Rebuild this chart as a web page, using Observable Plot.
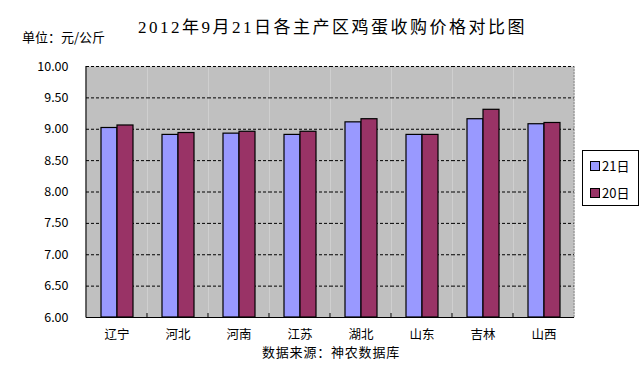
<!DOCTYPE html>
<html>
<head>
<meta charset="utf-8">
<script src="https://cdn.jsdelivr.net/npm/d3@7"></script>
<script src="https://cdn.jsdelivr.net/npm/@observablehq/plot@0.6"></script>
<style>
  html, body { margin: 0; padding: 0; background: #fff; }
  #wrap { position: relative; width: 642px; height: 371px; overflow: hidden; font-family: "Noto Sans CJK SC", sans-serif; }
  #wrap svg { position: absolute; left: 0; top: 0; }
  .title { position: absolute; left: 138px; top: 19px; font-family: "Liberation Serif", "Noto Sans CJK SC", serif; font-size: 17px; line-height: 17px; letter-spacing: 2.5px; color: #000; white-space: nowrap; }
  .unit { position: absolute; left: 22px; top: 30px; font-size: 13px; line-height: 13px; white-space: nowrap; color: #000; }
  .caption { position: absolute; left: 0; width: 662px; text-align: center; top: 345px; font-size: 13px; line-height: 13px; letter-spacing: 0.8px; white-space: nowrap; color: #000; }
  .legend { position: absolute; left: 582px; top: 150px; width: 55px; height: 54px; border: 1px solid #000; background: #fff; }
  .legend .row { position: absolute; left: 7px; height: 14px; display: flex; align-items: center; font-size: 13px; line-height: 14px; white-space: nowrap; }
  .legend .sw { width: 8px; height: 8px; border: 1px solid #000; margin-right: 2px; }
</style>
</head>
<body>
<div id="wrap"></div>
<script>
const titleText = "2012年9月21日各主产区鸡蛋收购价格对比图";
const unitText = "单位：元/公斤";
const captionText = "数据来源：神农数据库";
const regions = ["辽宁", "河北", "河南", "江苏", "湖北", "山东", "吉林", "山西"];
const series = ["21日", "20日"];
const colors = ["#9999FF", "#993366"];
const v21 = [9.02, 8.91, 8.93, 8.91, 9.11, 8.91, 9.16, 9.08];
const v20 = [9.06, 8.94, 8.96, 8.96, 9.16, 8.91, 9.31, 9.10];
const yTicks = [6.0, 6.5, 7.0, 7.5, 8.0, 8.5, 9.0, 9.5, 10.0];

const rows = [];
regions.forEach((r, i) => {
  rows.push({region: r, series: series[0], value: v21[i]});
  rows.push({region: r, series: series[1], value: v20[i]});
});
const yMin = yTicks[0], yMax = yTicks[yTicks.length - 1];

const chart = Plot.plot({
  width: 642,
  height: 371,
  marginLeft: 84,
  marginRight: 67,
  marginTop: 66,
  marginBottom: 54,
  style: {fontFamily: "'Noto Sans CJK SC', sans-serif", fontSize: "12.5px", color: "#000", background: "transparent"},
  facet: {data: rows, x: "region"},
  fx: {domain: regions, padding: 0, label: null, tickSize: 0, tickPadding: 13},
  x: {domain: series, paddingInner: 0, paddingOuter: 0.8, axis: null},
  y: {domain: [yMin, yMax], ticks: yTicks, tickFormat: d => d.toFixed(2), tickSize: 0, tickPadding: 18, label: null},
  color: {domain: series, range: colors},
  marks: [
    Plot.frame({fill: "#c0c0c0"}),
    Plot.ruleY(yTicks.slice(1), {stroke: "#000", strokeDasharray: "3,2", strokeWidth: 1}),
    Plot.barY(rows, {x: "series", y1: d => yMin, y2: "value", fill: "series", stroke: "#000", strokeWidth: 1.2}),
    Plot.ruleY([yMin], {stroke: "#000", strokeWidth: 1.2})
  ]
});

// axis lines and category separators from the library's scales
const fxs = chart.scale("fx");
const ys = chart.scale("y");
const svg = d3.select(chart);
const y0 = ys.apply(yMin), y1 = ys.apply(yMax);
const left = fxs.apply(regions[0]);
const right = fxs.apply(regions[regions.length - 1]) + fxs.bandwidth;
const g = svg.append("g");
g.append("line").attr("x1", left).attr("x2", left).attr("y1", y1).attr("y2", y0 + 0.5).attr("stroke", "#000").attr("stroke-width", 1.2);
g.append("line").attr("x1", right).attr("x2", right).attr("y1", y1).attr("y2", y0).attr("stroke", "#888").attr("stroke-dasharray", "2,1").attr("stroke-width", 1);
regions.slice(1).forEach(r => {
  const x = fxs.apply(r);
  g.append("line").attr("x1", x).attr("x2", x).attr("y1", y0).attr("y2", y0 - 4).attr("stroke", "#000").attr("stroke-width", 1);
});

const wrap = document.getElementById("wrap");
wrap.appendChild(chart);

function addDiv(cls, text) {
  const d = document.createElement("div");
  d.className = cls;
  d.textContent = text;
  wrap.appendChild(d);
  return d;
}
addDiv("title", titleText);
addDiv("unit", unitText);
addDiv("caption", captionText);

const legend = document.createElement("div");
legend.className = "legend";
series.forEach((s, i) => {
  const row = document.createElement("div");
  row.className = "row";
  row.style.top = (i === 0 ? 8 : 35) + "px";
  const sw = document.createElement("div");
  sw.className = "sw";
  sw.style.background = colors[i];
  row.appendChild(sw);
  const t = document.createElement("span");
  t.textContent = s;
  row.appendChild(t);
  legend.appendChild(row);
});
wrap.appendChild(legend);
</script>
</body>
</html>
